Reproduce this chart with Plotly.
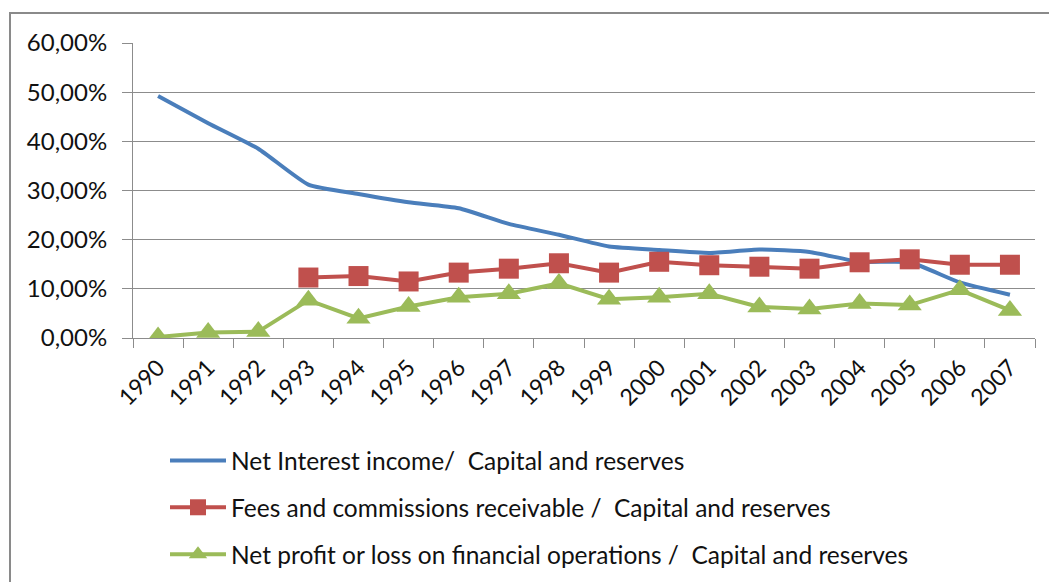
import plotly.graph_objects as go

years = [str(y) for y in range(1990, 2008)]
net_interest = [0.492, 0.437, 0.385, 0.312, 0.293, 0.276, 0.264, 0.232, 0.210, 0.186,
                0.179, 0.173, 0.180, 0.175, 0.155, 0.154, 0.113, 0.088]
fees = [None, None, None, 0.123, 0.126, 0.115, 0.133, 0.141, 0.152, 0.133,
        0.155, 0.148, 0.145, 0.141, 0.154, 0.160, 0.149, 0.149]
net_profit = [0.002, 0.011, 0.013, 0.077, 0.040, 0.064, 0.083, 0.090, 0.111, 0.079,
              0.083, 0.090, 0.063, 0.059, 0.070, 0.067, 0.098, 0.056]

names = ["Net Interest income/  Capital and reserves",
         "Fees and commissions receivable /  Capital and reserves",
         "Net profit or loss on financial operations /  Capital and reserves"]

BLUE = "#4A7EBB"
RED = "#C0504D"
GREEN = "#9BBB59"
FONT = "Lato"
GRID = "#8C8C8C"
TXT = "#111111"

fig = go.Figure()
fig.add_trace(go.Scatter(x=years, y=net_interest, name=names[0], mode="lines",
                         line=dict(color=BLUE, width=4, shape="spline", smoothing=0.5),
                         legendgroup="a"))
fig.add_trace(go.Scatter(x=years, y=fees, name=names[1], mode="lines+markers",
                         line=dict(color=RED, width=4),
                         marker=dict(symbol="square", size=20, color=RED),
                         legendgroup="b"))
fig.add_trace(go.Scatter(x=years, y=net_profit, name=names[2], mode="lines+markers",
                         line=dict(color=GREEN, width=4),
                         marker=dict(symbol="triangle-up", size=21, color=GREEN),
                         legendgroup="c"))

W, H = 1049, 582
L, R, T, B = 133, 14, 43, 244
pw, ph = W - L - R, H - T - B

def px(xp):
    return (xp - L) / pw

def py(yp):
    return (H - B - yp) / ph

fig.add_shape(type="rect", xref="paper", yref="paper",
              x0=px(10), x1=px(1060), y0=py(13), y1=py(600),
              line=dict(color="#8A8A8A", width=2), fillcolor="rgba(0,0,0,0)", layer="below")

fig.update_layout(
    autosize=False, width=W, height=H,
    margin=dict(l=L, r=R, t=T, b=B, autoexpand=False),
    paper_bgcolor="white", plot_bgcolor="white",
    separators=",.",
    font=dict(family=FONT, size=24, color=TXT),
    showlegend=True,
    legend=dict(orientation="v", x=px(165), xanchor="left", y=py(438), yanchor="top",
                font=dict(family=FONT, size=24.5, color=TXT),
                itemwidth=56, tracegroupgap=12, traceorder="grouped",
                bgcolor="rgba(0,0,0,0)"),
    xaxis=dict(type="category", range=[-0.5, 17.5], autorange=False, showgrid=False,
               showline=True, linecolor=GRID, linewidth=1,
               ticks="outside", ticklen=9, tickcolor=GRID, tickson="boundaries",
               tickangle=-45, tickfont=dict(family=FONT, size=23, color=TXT),
               automargin=False, zeroline=False, ticklabelstandoff=6),
    yaxis=dict(range=[0, 0.6], dtick=0.1, tickformat=".2%", showgrid=True, gridcolor=GRID,
               gridwidth=1, showline=True, linecolor=GRID, linewidth=1, ticks="outside",
               ticklen=10, tickcolor=GRID, zeroline=False, automargin=False,
               tickfont=dict(family=FONT, size=24, color=TXT), ticklabelstandoff=10),
)

post = ("document.documentElement.style.margin='0';document.body.style.margin='0';"
        "document.body.style.padding='0';document.body.style.overflow='hidden';"
        "document.documentElement.style.overflow='hidden';")

fig.write_html("out.html", config={"responsive": False, "displayModeBar": False},
               post_script=post)
